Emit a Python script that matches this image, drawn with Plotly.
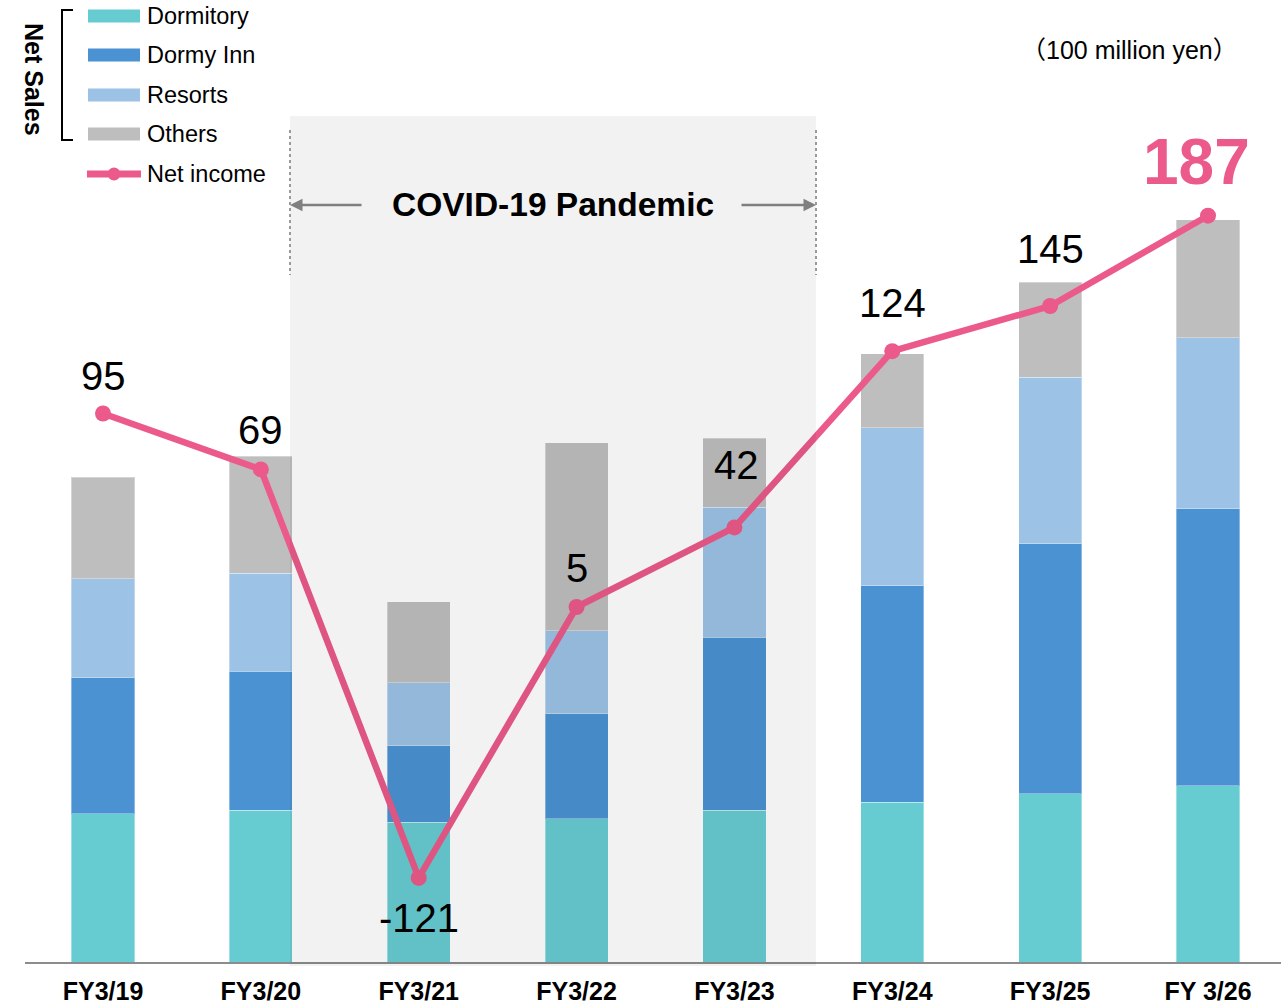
import plotly.graph_objects as go

# ---------------- data ----------------
categories = ["FY3/19", "FY3/20", "FY3/21", "FY3/22", "FY3/23", "FY3/24", "FY3/25", "FY 3/26"]
dormitory = [533, 547, 504, 515, 547, 576, 605, 634]
dormy_inn = [490, 500, 274, 378, 623, 778, 900, 997]
resorts = [356, 353, 227, 299, 468, 569, 601, 616]
others = [367, 421, 292, 677, 248, 266, 342, 425]
net_income = [95, 69, -121, 5, 42, 124, 145, 187]

# ---------------- layout helpers ----------------
W, H = 1281, 1008
L, R, T, B = 25, 0, 0, 46
PW, PH = W - L - R, H - T - B


def px(x):
    return (x - L) / PW


def py(y):
    return (T + PH - y) / PH


C_DORM = "#67CCD2"
C_INN = "#4B92D3"
C_RES = "#9CC2E6"
C_OTH = "#BEBEBE"
C_NET = "#EB5A8A"
FONT = "Liberation Sans, Arial, sans-serif"

xs = list(range(len(categories)))

fig = go.Figure()
for name, vals, col in [("Dormitory", dormitory, C_DORM), ("Dormy Inn", dormy_inn, C_INN),
                        ("Resorts", resorts, C_RES), ("Others", others, C_OTH)]:
    fig.add_trace(go.Bar(x=xs, y=vals, name=name,
                         marker=dict(color=col, line=dict(color="rgba(255,255,255,0.35)", width=1)),
                         width=0.4, yaxis="y", showlegend=False, hoverinfo="skip"))

fig.add_trace(go.Scatter(x=xs, y=net_income, name="Net income", mode="lines+markers",
                         line=dict(color=C_NET, width=6.5), marker=dict(size=16, color=C_NET),
                         yaxis="y2", showlegend=False, hoverinfo="skip"))

# scales: 3.6 units per px for sales, 1/2.15 units per px for net income
y1_max = PH * 3.6
y2_min = -(962 - 617.75) / 2.15
y2_max = y2_min + PH / 2.15

annotations = []
# value labels on the line
label_shift = [(0, 38), (0, 39), (0, -40), (0, 39), (2, 62), (0, 48), (0, 57), (-12, 54)]
for i, v in enumerate(net_income):
    dx, dy = label_shift[i]
    last = i == len(net_income) - 1
    annotations.append(dict(x=xs[i], y=v, xref="x", yref="y2", text=str(v), showarrow=False,
                            xshift=dx, yshift=dy, xanchor="center", yanchor="middle",
                            font=dict(family=FONT, size=64 if last else 40, color=C_NET if last else "black",
                                      weight="bold" if last else "normal")))

# covid region
x_c0 = (290 - 103) / 157.86
x_c1 = (816 - 103) / 157.86
annotations.append(dict(x=(x_c0 + x_c1) / 2, y=py(205), xref="x", yref="paper", text="<b>COVID-19 Pandemic</b>",
                        showarrow=False, font=dict(family=FONT, size=33.5, color="black"), xanchor="center",
                        yanchor="middle"))
annotations.append(dict(x=x_c0, y=py(205), xref="x", yref="paper", ax=73, ay=0, text="", showarrow=True,
                        arrowhead=2, arrowsize=1, arrowwidth=2.5, arrowcolor="#7F7F7F"))
annotations.append(dict(x=x_c1, y=py(205), xref="x", yref="paper", ax=-76, ay=0, text="", showarrow=True,
                        arrowhead=2, arrowsize=1, arrowwidth=2.5, arrowcolor="#7F7F7F"))

# unit
annotations.append(dict(x=px(1129), y=py(50), xref="paper", yref="paper", text="（100 million yen）",
                        showarrow=False, font=dict(family=FONT + ", Noto Sans CJK JP", size=25, color="black"),
                        xanchor="center", yanchor="middle"))

# legend texts
legend_items = [("Dormitory", 16), ("Dormy Inn", 55), ("Resorts", 95), ("Others", 134), ("Net income", 174)]
for txt, yc in legend_items:
    annotations.append(dict(x=px(145), y=py(yc), xref="paper", yref="paper", text=txt, showarrow=False,
                            xanchor="left", yanchor="middle", font=dict(family=FONT, size=23.5, color="black")))
annotations.append(dict(x=px(34), y=py(79), xref="paper", yref="paper", text="<b>Net Sales</b>", showarrow=False,
                        textangle=90, xanchor="center", yanchor="middle",
                        font=dict(family=FONT, size=25, color="black")))

shapes = []
# shaded covid band (drawn above marks, translucent)
shapes.append(dict(type="rect", xref="x", yref="paper", x0=x_c0, x1=x_c1, y0=py(966), y1=py(116),
                   fillcolor="rgba(0,0,0,0.05)", line=dict(width=0), layer="above"))
for xc in (x_c0, x_c1):
    shapes.append(dict(type="line", xref="x", yref="paper", x0=xc, x1=xc, y0=py(130), y1=py(275),
                       line=dict(color="#9A9A9A", width=2, dash="dot"), layer="above"))
# legend swatches
for (txt, yc), col in zip(legend_items[:4], [C_DORM, C_INN, C_RES, C_OTH]):
    shapes.append(dict(type="rect", xref="paper", yref="paper", x0=px(88), x1=px(140), y0=py(yc + 6.5),
                       y1=py(yc - 6.5), fillcolor=col, line=dict(width=0)))
shapes.append(dict(type="line", xref="paper", yref="paper", x0=px(87), x1=px(141), y0=py(174), y1=py(174),
                   line=dict(color=C_NET, width=7)))
shapes.append(dict(type="circle", xref="paper", yref="paper", x0=px(107.5), x1=px(120.5), y0=py(180.5),
                   y1=py(167.5), fillcolor=C_NET, line=dict(width=0)))
# bracket
shapes.append(dict(type="path", xref="paper", yref="paper",
                   path=f"M {px(73)} {py(10)} L {px(62)} {py(10)} L {px(62)} {py(140)} L {px(73)} {py(140)}",
                   line=dict(color="black", width=2)))

fig.update_layout(
    width=W, height=H, margin=dict(l=L, r=R, t=T, b=B, pad=0, autoexpand=False),
    paper_bgcolor="white", plot_bgcolor="white",
    barmode="stack", bargap=0.6,
    xaxis=dict(range=[-(103 - L) / 157.86, 7 + (W - 1208) / 157.86], tickvals=xs, ticktext=categories,
               showgrid=False, zeroline=False, showline=True, linecolor="#8C8C8C", linewidth=2,
               ticks="", ticklabelstandoff=6, automargin=False,
               tickfont=dict(family="Liberation Sans Narrow, Arial Narrow, " + FONT, size=25, color="black",
                             weight="bold")),
    yaxis=dict(range=[0, y1_max], visible=False, showgrid=False, zeroline=False),
    yaxis2=dict(range=[y2_min, y2_max], overlaying="y", visible=False, showgrid=False, zeroline=False),
    annotations=annotations, shapes=shapes, showlegend=False,
)

fig.write_html("out.html", config={"displayModeBar": False},
               post_script="document.body.style.margin='0';document.body.style.overflow='hidden';")
